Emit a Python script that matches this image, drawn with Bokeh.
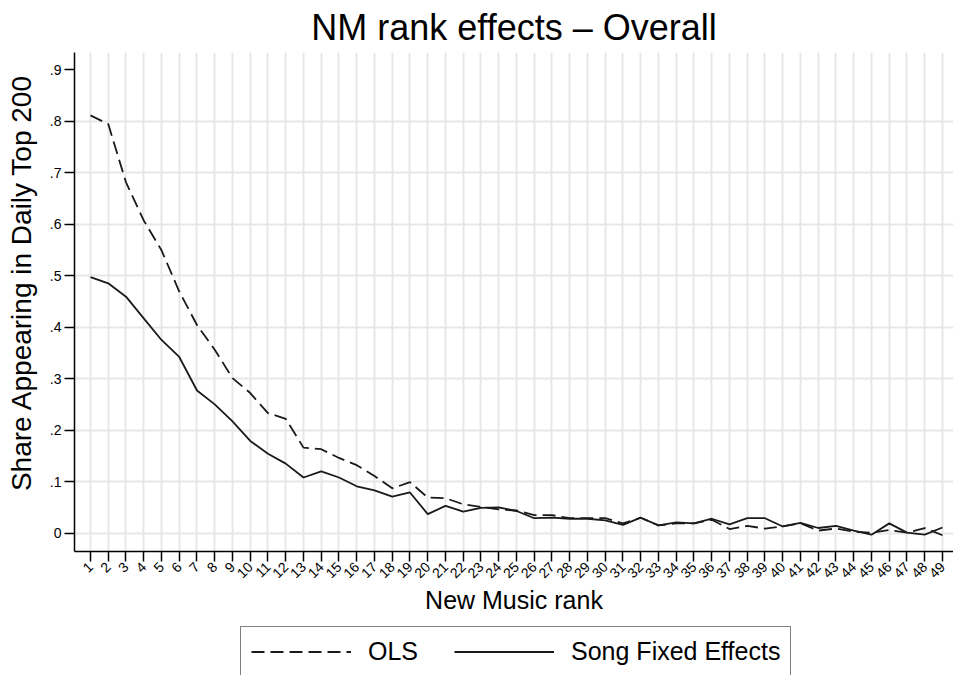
import math
from bokeh.plotting import figure
from bokeh.layouts import column
from bokeh.models import Range1d, FixedTicker, CustomJSTickFormatter, Legend, LegendItem
from bokeh.embed import file_html
from bokeh.resources import INLINE

# ---- data ----
ranks = list(range(1, 50))
ols = [0.811, 0.794, 0.681, 0.607, 0.549, 0.469, 0.404, 0.356, 0.301, 0.272,
       0.233, 0.222, 0.166, 0.163, 0.146, 0.132, 0.111, 0.087, 0.099, 0.069,
       0.068, 0.056, 0.051, 0.046, 0.044, 0.035, 0.035, 0.029, 0.029, 0.029,
       0.019, 0.030, 0.015, 0.019, 0.019, 0.026, 0.008, 0.014, 0.009, 0.013,
       0.019, 0.005, 0.009, 0.003, 0.001, 0.006, 0.001, 0.010, -0.004]
song_fe = [0.497, 0.485, 0.459, 0.417, 0.375, 0.342, 0.277, 0.250, 0.217, 0.179,
           0.154, 0.135, 0.108, 0.120, 0.108, 0.091, 0.083, 0.071, 0.079, 0.037,
           0.053, 0.042, 0.049, 0.050, 0.043, 0.029, 0.030, 0.028, 0.028, 0.025,
           0.016, 0.030, 0.015, 0.021, 0.019, 0.028, 0.017, 0.029, 0.029, 0.013,
           0.020, 0.010, 0.014, 0.005, -0.003, 0.019, 0.001, -0.003, 0.011]
y_ticks = [0.0, 0.1, 0.2, 0.3, 0.4, 0.5, 0.6, 0.7, 0.8, 0.9]
y_grid_ticks = [0.0, 0.1, 0.2, 0.3, 0.4, 0.5, 0.6, 0.7, 0.8]
title_text = "NM rank effects \u2013 Overall"
x_label = "New Music rank"
y_label = "Share Appearing in Daily Top 200"
series_names = ["OLS", "Song Fixed Effects"]

FONT = "Liberation Sans"
INK = "#1a1a1a"
OLS_DASH = "13 6"

# ---------------- main chart ----------------
p = figure(width=953, height=626, output_backend="svg", toolbar_location=None,
           x_range=Range1d(0.0986, 49.62), y_range=Range1d(-0.0356, 0.933),
           min_border_left=74, min_border_right=0, min_border_top=50,
           min_border_bottom=75)
p.outline_line_color = None
p.background_fill_color = "white"
p.border_fill_color = "white"

p.title.text = title_text
p.title.text_font = FONT
p.title.text_font_size = "36px"
p.title.text_font_style = "normal"
p.title.text_color = "black"
p.title.align = "center"
p.title.standoff = 9

for ax in (p.xaxis[0], p.yaxis[0]):
    ax.axis_line_color = "black"
    ax.axis_line_width = 1.5
    ax.major_tick_line_color = "black"
    ax.major_tick_line_width = 1.5
    ax.major_tick_out = 10
    ax.major_tick_in = 0
    ax.minor_tick_line_color = None
    ax.major_label_text_font = FONT
    ax.major_label_text_font_size = "14px"
    ax.major_label_text_color = "black"
    ax.axis_label_text_font = FONT
    ax.axis_label_text_font_style = "normal"
    ax.axis_label_text_color = "black"

p.xaxis.ticker = FixedTicker(ticks=ranks)
p.xaxis.major_label_orientation = math.pi / 4
p.xaxis.major_label_standoff = 3
p.xaxis.axis_label = x_label
p.xaxis.axis_label_text_font_size = "25px"
p.xaxis.axis_label_standoff = 0

p.yaxis.ticker = FixedTicker(ticks=y_ticks)
p.yaxis.formatter = CustomJSTickFormatter(
    code="if (Math.abs(tick) < 1e-9) { return '0'; } return tick.toFixed(1).replace(/^0/, '');")
p.yaxis.major_label_standoff = 3
# leading no-break spaces nudge the (centred) rotated title upward, as in the reference
p.yaxis.axis_label = "\u00a0" * 5 + y_label
p.yaxis.axis_label_text_font_size = "28px"
p.yaxis.axis_label_standoff = 10

p.xgrid.ticker = FixedTicker(ticks=ranks)
p.ygrid.ticker = FixedTicker(ticks=y_grid_ticks)
for g in (p.xgrid[0], p.ygrid[0]):
    g.grid_line_color = "#e7e7e7"
    g.grid_line_width = 2

p.line(ranks, ols, line_color=INK, line_width=1.8, line_dash=OLS_DASH)
p.line(ranks, song_fe, line_color=INK, line_width=1.8)

# ---------------- legend strip ----------------
# the same two series, drawn outside this strip's visible range, only to key the legend
leg = figure(width=953, height=49, output_backend="svg", toolbar_location=None,
             x_range=Range1d(1000, 1001), y_range=Range1d(1000, 1001),
             min_border_left=0, min_border_right=0, min_border_top=0,
             min_border_bottom=0)
leg.axis.visible = False
leg.grid.visible = False
leg.outline_line_color = None
leg.background_fill_color = "white"
leg.border_fill_color = "white"
k_ols = leg.line(ranks, ols, line_color=INK, line_width=1.8, line_dash=OLS_DASH)
k_fe = leg.line(ranks, song_fe, line_color=INK, line_width=1.8)

legend = Legend(items=[LegendItem(label=series_names[0], renderers=[k_ols]),
                       LegendItem(label=series_names[1], renderers=[k_fe])],
                orientation="horizontal", location=(166, -2))
legend.border_line_color = "black"
legend.border_line_width = 1.2
legend.background_fill_color = "white"
legend.background_fill_alpha = 1.0
legend.label_text_font = FONT
legend.label_text_font_size = "25px"
legend.label_text_color = "black"
legend.glyph_width = 100
legend.glyph_height = 27
legend.label_height = 27
legend.label_standoff = 17
legend.spacing = 36
legend.padding = 10
legend.margin = 0
leg.add_layout(legend, "center")

layout = column(p, leg, spacing=0)
open("out.html", "w").write(file_html(layout, INLINE))
